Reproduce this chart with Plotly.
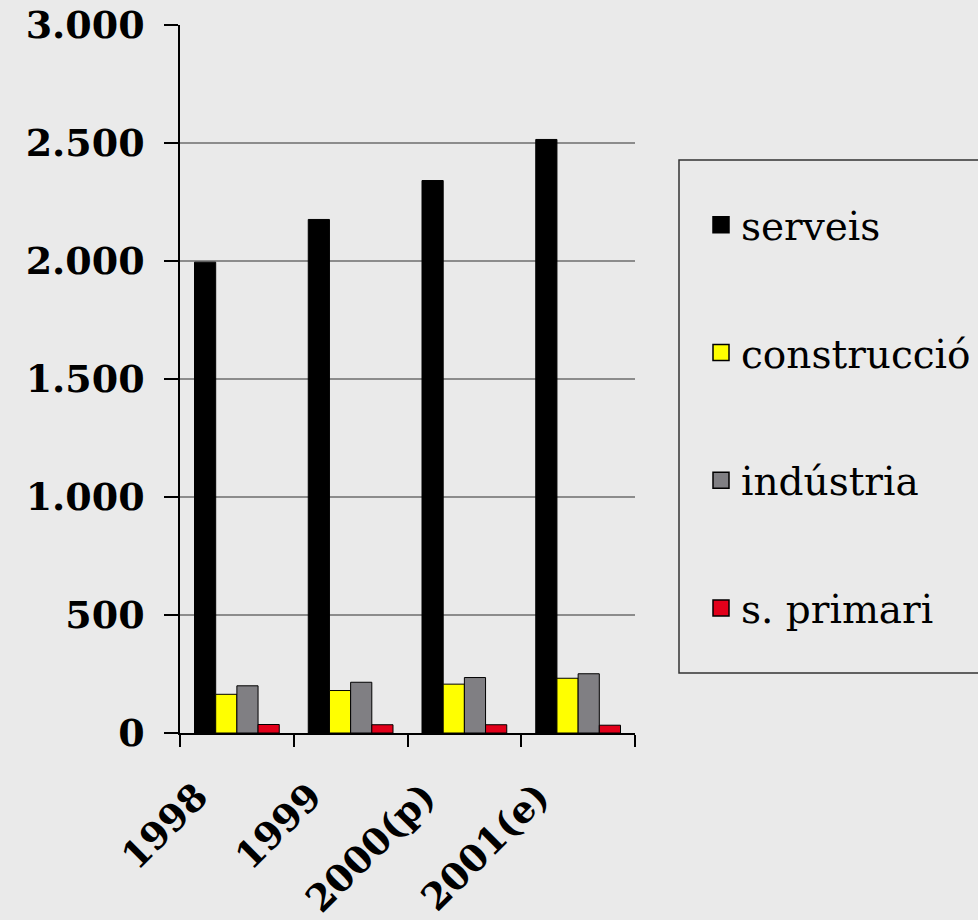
import plotly.graph_objects as go

years = ["1998", "1999", "2000(p)", "2001(e)"]
serveis = [1995, 2176, 2341, 2515]
construccio = [164, 180, 207, 232]
industria = [200, 215, 235, 251]
primari = [36, 35, 35, 33]

series = [
    ("serveis", serveis, "#000000"),
    ("construcció", construccio, "#FFFF00"),
    ("indústria", industria, "#807F83"),
    ("s. primari", primari, "#E2001A"),
]

fig = go.Figure()
for name, vals, col in series:
    fig.add_trace(go.Bar(
        x=years, y=vals, name=name,
        marker=dict(color=col, line=dict(color="#000000", width=1)),
        showlegend=False,
    ))
for name, vals, col in series:
    fig.add_trace(go.Scatter(
        x=[None], y=[None], name=name, mode="markers",
        marker=dict(symbol="square", size=22, color=col,
                    line=dict(color="#000000", width=1.5)),
        legendgroup=name, showlegend=True,
    ))

W, H = 978, 920
PL, PR, PT, PB = 180, 635, 25, 733
L, R, T, B = PL, W - PR, PT, H - PB

def px_x(x):
    return (x - PL) / (PR - PL)

def px_y(y):
    return (PB - y) / (PB - PT)

fig.update_layout(
    template="none",
    width=W, height=H,
    margin=dict(l=L, r=R, t=T, b=B, pad=0, autoexpand=False),
    paper_bgcolor="#EAEAEA", plot_bgcolor="#EAEAEA",
    barmode="group", bargap=0.255, bargroupgap=0,
    separators=",.",
    font=dict(family="DejaVu Serif", color="#000000"),
    legend=dict(
        x=px_x(701), xanchor="left",
        y=px_y(193), yanchor="top",
        bgcolor="rgba(0,0,0,0)", borderwidth=0,
        font=dict(family="DejaVu Serif", size=39, color="#000000"),
        traceorder="grouped", tracegroupgap=74,
        itemsizing="trace",
    ),
    shapes=[dict(
        type="rect", xref="paper", yref="paper",
        x0=px_x(679), x1=px_x(990), y0=px_y(673), y1=px_y(160),
        line=dict(color="#333333", width=1.5), fillcolor="rgba(0,0,0,0)",
        layer="below",
    )],
)
fig.update_yaxes(
    automargin=False,
    range=[0, 3000], dtick=500, tickformat=",d",
    showgrid=True, gridcolor="#8C8C8C", gridwidth=1.5,
    showline=True, linecolor="#000000", linewidth=1.5,
    ticks="outside", ticklen=14, tickcolor="#000000", tickwidth=1.5,
    ticklabelstandoff=12,
    tickfont=dict(family="DejaVu Serif", size=38, weight="bold"),
    zeroline=False,
)
fig.update_xaxes(
    automargin=False,
    type="category", tickson="boundaries",
    showline=True, linecolor="#000000", linewidth=1.5,
    ticks="outside", ticklen=12, tickcolor="#000000", tickwidth=1.5,
    tickangle=-45,
    ticklabelstandoff=25, ticklabelshift=-40,
    tickfont=dict(family="DejaVu Serif", size=37, weight="bold"),
    showgrid=False, zeroline=False,
)

fig.write_html(
    "out.html",
    config={"displayModeBar": False},
    post_script=(
        "document.body.style.margin='0';"
        "document.body.style.overflow='hidden';"
        "document.documentElement.style.overflow='hidden';"
        "document.body.style.background='#EAEAEA';"
    ),
)
